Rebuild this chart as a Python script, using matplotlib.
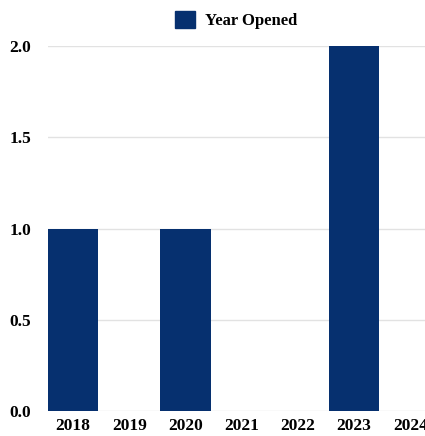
import matplotlib
matplotlib.use("Agg")
import matplotlib.pyplot as plt
from matplotlib.patches import Patch

years = ["2018", "2019", "2020", "2021", "2022", "2023", "2024"]
opened = [1, 0, 1, 0, 0, 2, 0]
yticks = [0.0, 0.5, 1.0, 1.5, 2.0]

navy = "#06306f"
plt.rcParams["font.family"] = ["Liberation Serif", "DejaVu Serif"]
plt.rcParams["font.weight"] = "bold"

fig = plt.figure(figsize=(4.25, 4.36), dpi=100)
ax = fig.add_axes([0.113, 0.057, 0.887, 0.837])

x = list(range(len(years)))
ax.bar(x, opened, width=0.89, color=navy, zorder=3)

ax.set_ylim(0, 2)
ax.set_xlim(-0.445, 6.26)
ax.set_yticks(yticks)
ax.set_yticklabels([f"{v:.1f}" for v in yticks], fontsize=12.5, fontweight="bold")
ax.set_xticks(x)
ax.set_xticklabels(years, fontsize=12.5, fontweight="bold")
ax.tick_params(axis="both", length=0)
ax.tick_params(axis="y", pad=12)
ax.tick_params(axis="x", pad=5)
ax.grid(axis="y", color="#e2e2e2", linewidth=1, zorder=0)
for s in ax.spines.values():
    s.set_visible(False)

fig.legend(handles=[Patch(color=navy, label="Year Opened")], loc="center",
           bbox_to_anchor=(0.555, 0.955), frameon=False, handlelength=1.2,
           handleheight=1.2, handletextpad=0.6, prop={"size": 12, "weight": "bold"})

fig.savefig("out.png", dpi=100)
